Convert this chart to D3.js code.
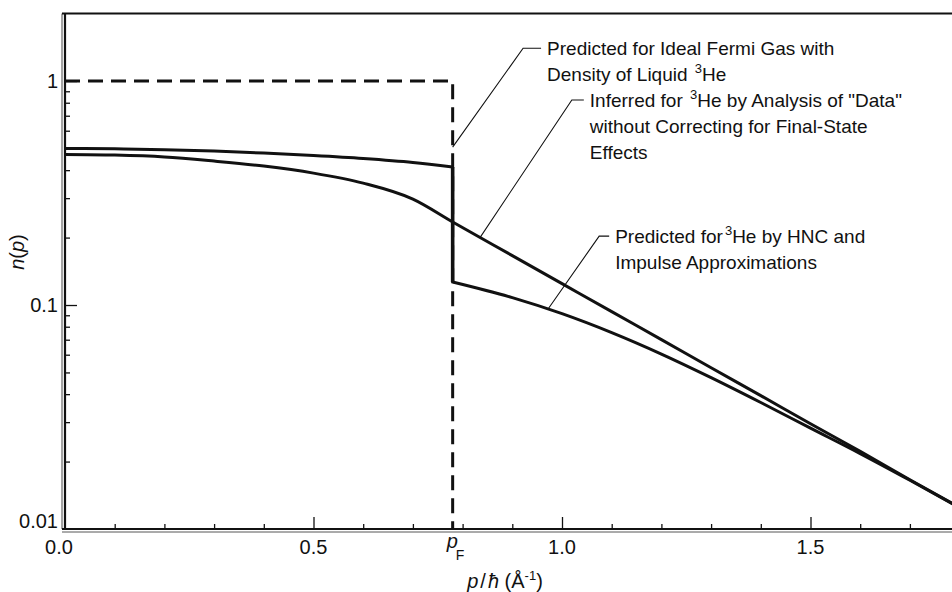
<!DOCTYPE html>
<html>
<head>
<meta charset="utf-8">
<script src="https://cdn.jsdelivr.net/npm/d3@7"></script>
<style>
  body { margin: 0; background: #fff; }
  svg text { font-family: "Liberation Sans", Arial, Helvetica, sans-serif; fill: #111; }
</style>
</head>
<body>
<svg id="chart"></svg>
<script>
const width = 952;
const height = 592;

// momentum p/hbar (1/Angstrom)
const pF = 0.78;
const pBelow = [0, 0.1, 0.2, 0.3, 0.4, 0.5, 0.6, 0.7, 0.78];
const pAbove = [0.78, 0.9, 1.0, 1.1, 1.2, 1.3, 1.4, 1.5, 1.6, 1.7, 1.8];

// HNC + impulse approximation, below and above the Fermi surface
const hncBelow = [0.500, 0.498, 0.494, 0.487, 0.477, 0.465, 0.451, 0.433, 0.413];
const hncAbove = [0.1267, 0.1079, 0.0915, 0.0753, 0.0604, 0.0474, 0.0367, 0.0282, 0.0217, 0.0165, 0.01246];

// inferred from "data" without final-state corrections
const pInferred = [0, 0.1, 0.2, 0.3, 0.4, 0.5, 0.6, 0.7, 0.78, 0.9, 1.0, 1.1, 1.2, 1.3, 1.4, 1.5, 1.6, 1.7, 1.8];
const nInferred = [0.470, 0.467, 0.458, 0.439, 0.417, 0.388, 0.350, 0.297, 0.2348, 0.1662, 0.1246, 0.0934, 0.0701, 0.0525, 0.0394, 0.0295, 0.0222, 0.0166, 0.01246];

// ideal Fermi gas step
const pFermi = [0, pF, pF];
const nFermi = [1, 1, 0.01];

const xMajorTicks = [0, 0.5, 1.0, 1.5];
const xMajorLabels = ["0.0", "0.5", "1.0", "1.5"];
const yMajorTicks = [1, 0.1, 0.01];
const yMajorLabels = ["1", "0.1", "0.01"];

// annotation texts; [text, superscript?]
const noteLines = [
  [[["Predicted for Ideal Fermi Gas with"]], [["Density of Liquid "], ["3", 1], ["He"]]],
  [[["Inferred for "], ["3", 1], ["He by Analysis of \"Data\""]], [["without Correcting for Final-State"]], [["Effects"]]],
  [[["Predicted for"], ["3", 1], ["He by HNC and"]], [["Impulse Approximations"]]]
];
const noteAnchors = [[0.78, 0.507], [0.835, 0.200], [0.972, 0.096]];
const noteTextAt = [[0.970, 1.40], [1.056, 0.823], [1.107, 0.203]];

const x = d3.scaleLinear().domain([0, 1.8]).range([65, 959.6]);
const y = d3.scaleLog().domain([0.01, 2]).range([529, 13.6]);

const svg = d3.select("#chart").attr("width", width).attr("height", height);
svg.append("rect").attr("width", width).attr("height", height).attr("fill", "#fff");

// frame: left and bottom axes drawn with a thin companion line, like the print
svg.append("line").attr("x1", 65).attr("x2", 65).attr("y1", y(2)).attr("y2", y(0.01))
  .attr("stroke", "#111").attr("stroke-width", 2.2);
svg.append("line").attr("x1", 62).attr("x2", 62).attr("y1", y(2)).attr("y2", y(0.01))
  .attr("stroke", "#333").attr("stroke-width", 0.9);
svg.append("line").attr("x1", 62).attr("x2", width).attr("y1", y(2)).attr("y2", y(2))
  .attr("stroke", "#111").attr("stroke-width", 2);
svg.append("line").attr("x1", 62).attr("x2", width).attr("y1", y(0.01)).attr("y2", y(0.01))
  .attr("stroke", "#111").attr("stroke-width", 2.2);
svg.append("line").attr("x1", 62).attr("x2", width).attr("y1", y(0.01) + 3).attr("y2", y(0.01) + 3)
  .attr("stroke", "#444").attr("stroke-width", 0.9);

// x ticks (pointing up into the plot)
const xMinor = d3.range(1, 18).map(i => i / 10).filter(v => !xMajorTicks.some(m => Math.abs(m - v) < 1e-9));
svg.append("g").attr("transform", `translate(0,${y(0.01)})`)
  .call(d3.axisTop(x).tickValues(xMinor).tickSize(5).tickFormat(""))
  .call(g => g.select(".domain").remove())
  .selectAll("line").attr("stroke", "#111").attr("stroke-width", 1.3);
svg.append("g").attr("transform", `translate(0,${y(0.01)})`)
  .call(d3.axisTop(x).tickValues(xMajorTicks.slice(1)).tickSize(12).tickFormat(""))
  .call(g => g.select(".domain").remove())
  .selectAll("line").attr("stroke", "#111").attr("stroke-width", 1.3);

svg.append("g").selectAll("text").data(xMajorTicks).join("text")
  .attr("x", d => x(d) - (d === 0 ? 6 : 0))
  .attr("y", 554)
  .attr("text-anchor", "middle")
  .attr("font-size", 20)
  .text((d, i) => xMajorLabels[i]);

// y ticks (pointing right into the plot)
const yMinor = y.ticks().filter(v => v < 1 && !yMajorTicks.some(m => Math.abs(m - v) < 1e-9));
svg.append("g").attr("transform", "translate(65,0)")
  .call(d3.axisRight(y).tickValues(yMinor).tickSize(5).tickFormat(""))
  .call(g => g.select(".domain").remove())
  .selectAll("line").attr("stroke", "#111").attr("stroke-width", 1.3);
svg.append("g").attr("transform", "translate(65,0)")
  .call(d3.axisRight(y).tickValues(yMajorTicks.slice(0, 2)).tickSize(12).tickFormat(""))
  .call(g => g.select(".domain").remove())
  .selectAll("line").attr("stroke", "#111").attr("stroke-width", 1.3);

svg.append("g").selectAll("text").data(yMajorTicks).join("text")
  .attr("x", 58)
  .attr("y", d => y(d) + (d === 0.01 ? -1 : 7))
  .attr("text-anchor", "end")
  .attr("font-size", 20)
  .text((d, i) => yMajorLabels[i]);

// pF label
const pfLabel = svg.append("text").attr("x", x(pF) - 6).attr("y", 548)
  .attr("text-anchor", "start").attr("font-size", 20);
pfLabel.append("tspan").attr("font-style", "italic").text("p");
pfLabel.append("tspan").attr("font-size", 14).attr("dx", -2).attr("dy", 12).text("F");

// axis titles
const xTitle = svg.append("text").attr("x", 505).attr("y", 588)
  .attr("text-anchor", "middle").attr("font-size", 20);
xTitle.append("tspan").attr("font-style", "italic").text("p");
xTitle.append("tspan").attr("dx", 2).text("/");
xTitle.append("tspan").attr("dx", 2).attr("font-style", "italic").text("ħ");
xTitle.append("tspan").text(" (Å");
xTitle.append("tspan").attr("font-size", 13).attr("dy", -8).text("-1");
xTitle.append("tspan").attr("dy", 8).text(")");

const yTitle = svg.append("text").attr("transform", "translate(24,252) rotate(-90)")
  .attr("text-anchor", "middle").attr("font-size", 20);
yTitle.append("tspan").attr("font-style", "italic").text("n");
yTitle.append("tspan").text("(");
yTitle.append("tspan").attr("font-style", "italic").text("p");
yTitle.append("tspan").text(")");

// curves
const line = d3.line().x(d => x(d[0])).y(d => y(d[1]));
const smooth = d3.line().x(d => x(d[0])).y(d => y(d[1])).curve(d3.curveMonotoneX);

const plot = svg.append("g");

plot.append("path")
  .attr("d", line(pFermi.map((p, i) => [p, nFermi[i]])))
  .attr("fill", "none").attr("stroke", "#111").attr("stroke-width", 3)
  .attr("stroke-dasharray", "15,8");

plot.append("path")
  .attr("d", smooth(pInferred.map((p, i) => [p, nInferred[i]])))
  .attr("fill", "none").attr("stroke", "#111").attr("stroke-width", 3);

plot.append("path")
  .attr("d", smooth(pBelow.map((p, i) => [p, hncBelow[i]])))
  .attr("fill", "none").attr("stroke", "#111").attr("stroke-width", 3);
plot.append("path")
  .attr("d", line([[pF, hncBelow[hncBelow.length - 1]], [pF, hncAbove[0]]]))
  .attr("fill", "none").attr("stroke", "#111").attr("stroke-width", 3.6);
plot.append("path")
  .attr("d", smooth(pAbove.map((p, i) => [p, hncAbove[i]])))
  .attr("fill", "none").attr("stroke", "#111").attr("stroke-width", 3);

// annotations with leader lines
const elbow = [18, 12, 10];
noteLines.forEach((lines, k) => {
  const tx = x(noteTextAt[k][0]);
  const ty = y(noteTextAt[k][1]);
  const ax = x(noteAnchors[k][0]);
  const ay = y(noteAnchors[k][1]);
  svg.append("path")
    .attr("d", `M${ax},${ay}L${tx - elbow[k] - 6},${ty}L${tx - 6},${ty}`)
    .attr("fill", "none").attr("stroke", "#111").attr("stroke-width", 1.1);
  lines.forEach((segs, j) => {
    const t = svg.append("text").attr("x", tx).attr("y", ty + 7 + j * 26).attr("font-size", 19);
    segs.forEach((s, i) => {
      if (s[1]) {
        t.append("tspan").attr("font-size", 13).attr("dy", -8).attr("dx", 2).text(s[0]);
      } else {
        const ts = t.append("tspan").text(s[0]);
        if (i > 0 && segs[i - 1][1]) ts.attr("dy", 8);
      }
    });
  });
});
</script>
</body>
</html>
